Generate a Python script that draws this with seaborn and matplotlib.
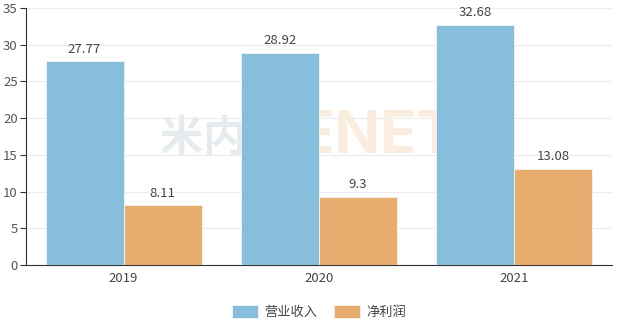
import matplotlib
matplotlib.use("Agg")
import matplotlib.pyplot as plt
import seaborn as sns
import pandas as pd
import numpy as np

years = ["2019", "2020", "2021"]
series_names = ["营业收入", "净利润"]
revenue = [27.77, 28.92, 32.68]
profit = [8.11, 9.3, 13.08]
revenue_labels = ["27.77", "28.92", "32.68"]
profit_labels = ["8.11", "9.3", "13.08"]
yticks = [0, 5, 10, 15, 20, 25, 30, 35]

sns.set_theme(style="white")
plt.rcParams['font.family'] = ['Noto Sans CJK SC', 'DejaVu Sans']

df = pd.DataFrame({
    "year": years * 2,
    "series": [series_names[0]] * 3 + [series_names[1]] * 3,
    "value": revenue + profit,
})

fig = plt.figure(figsize=(6.21, 3.22), dpi=100)
ax = fig.add_axes([26/621, 1-265/322, (612-26)/621, (265-8)/322])

colors = ["#86BEDC", "#E8AC6E"]
sns.barplot(data=df, x="year", y="value", hue="series", palette=colors,
            width=0.8, ax=ax, edgecolor="#f4f4f4", linewidth=0.6, saturation=1,
            zorder=3)

# watermark
ax.text(0.228, 0.495, "米内", transform=ax.transAxes, ha="left", va="center",
        fontsize=31, fontweight="bold", color="#e6ebee", zorder=1)
ax.text(0.37, 0.495, "MENET", transform=ax.transAxes, ha="left", va="center",
        fontsize=43, fontweight="bold", family="Inter", color="#fbece0", zorder=1)

for cont, labs in zip(ax.containers, [revenue_labels, profit_labels]):
    ax.bar_label(cont, labels=labs, padding=4, fontsize=9.5, color="#444444")

ax.set_ylim(0, 35)
ax.set_xlim(-0.5, 2.5)
ax.set_yticks(yticks)
ax.set_yticklabels([str(v) for v in yticks], fontsize=9.5, color="#555555")
ax.set_xticks(range(3))
ax.set_xticklabels(years, fontsize=9.5, color="#444444")
ax.tick_params(axis="x", length=0, pad=5)
ax.set_xticks([-0.5, 0.5, 1.5, 2.5], minor=True)
ax.tick_params(axis="x", which="minor", length=5, color="#333333", width=0.8, direction="out")
ax.tick_params(axis="y", length=4, color="#333333", width=0.8, direction="out", pad=2, left=True)
ax.grid(axis="y", color="#ececec", linewidth=0.8, zorder=0)
ax.set_axisbelow(True)
ax.set_xlabel("")
ax.set_ylabel("")
for s in ["top", "right"]:
    ax.spines[s].set_visible(False)
for s in ["left", "bottom"]:
    ax.spines[s].set_color("#333333")
    ax.spines[s].set_linewidth(0.8)

leg = ax.legend(loc="lower center", bbox_to_anchor=(0.5, -0.255), ncol=2, frameon=False,
                fontsize=9.5, handlelength=2.0, handleheight=1.1, columnspacing=1.2,
                handletextpad=0.5)
for t in leg.get_texts():
    t.set_color("#444444")

fig.savefig("out.png", dpi=100)
